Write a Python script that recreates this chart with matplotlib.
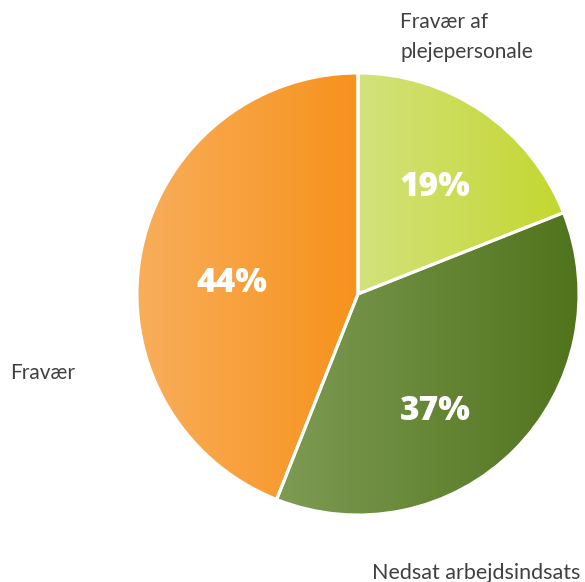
import matplotlib.pyplot as plt
import numpy as np
from matplotlib.colors import LinearSegmentedColormap

# data
labels = ['Fravær af\nplejepersonale', 'Nedsat arbejdsindsats', 'Fravær']
shares = [19, 37, 44]

# gradient ends per slice (left -> right)
grads = [('#D3E27C', '#C3D72F'), ('#7E9B53', '#50731C'), ('#F9AE5B', '#F7921C')]
TEXT = '#404040'
FONT = 'Lato'

fig = plt.figure(figsize=(5.85, 5.82), dpi=100)
ax = fig.add_axes([0, 0, 1, 1])

cx, cy, R = 358, 582 - 294, 221
wedges, _ = ax.pie(shares, startangle=90, counterclock=False, center=(cx, cy),
                   radius=R, frame=True,
                   wedgeprops=dict(facecolor='none', edgecolor='white', linewidth=2.2))
ax.set_xlim(0, 585)
ax.set_ylim(0, 582)
ax.set_aspect('equal')
ax.axis('off')

grad = np.linspace(0, 1, 256).reshape(1, -1)
for w, (c0, c1) in zip(wedges, grads):
    ext = w.get_path().get_extents()
    cmap = LinearSegmentedColormap.from_list('g', [c0, c1])
    im = ax.imshow(grad, cmap=cmap, aspect='auto',
                   extent=(ext.x0, ext.x1, ext.y0, ext.y1), zorder=1)
    im.set_clip_path(w)
    w.set_zorder(2)

# percentage labels
pct_pos = [(435, 187), (435, 411), (232, 283)]
for (px, py), v in zip(pct_pos, shares):
    ax.text(px, 582 - py, f'{v}%', color='white', fontsize=24, fontweight='heavy',
            ha='center', va='center', family='Open Sans', zorder=3)

# category labels
for i, line in enumerate(labels[0].split('\n')):
    ax.text(400, 582 - 22 - 30 * i, line, color=TEXT, fontsize=15, ha='left',
            va='center', family=FONT)
ax.text(372, 582 - 573, labels[1], color=TEXT, fontsize=15.5, ha='left', va='center',
        family=FONT)
ax.text(10, 582 - 373, labels[2], color=TEXT, fontsize=15, ha='left', va='center',
        family=FONT)

fig.savefig('out.png', dpi=100)
